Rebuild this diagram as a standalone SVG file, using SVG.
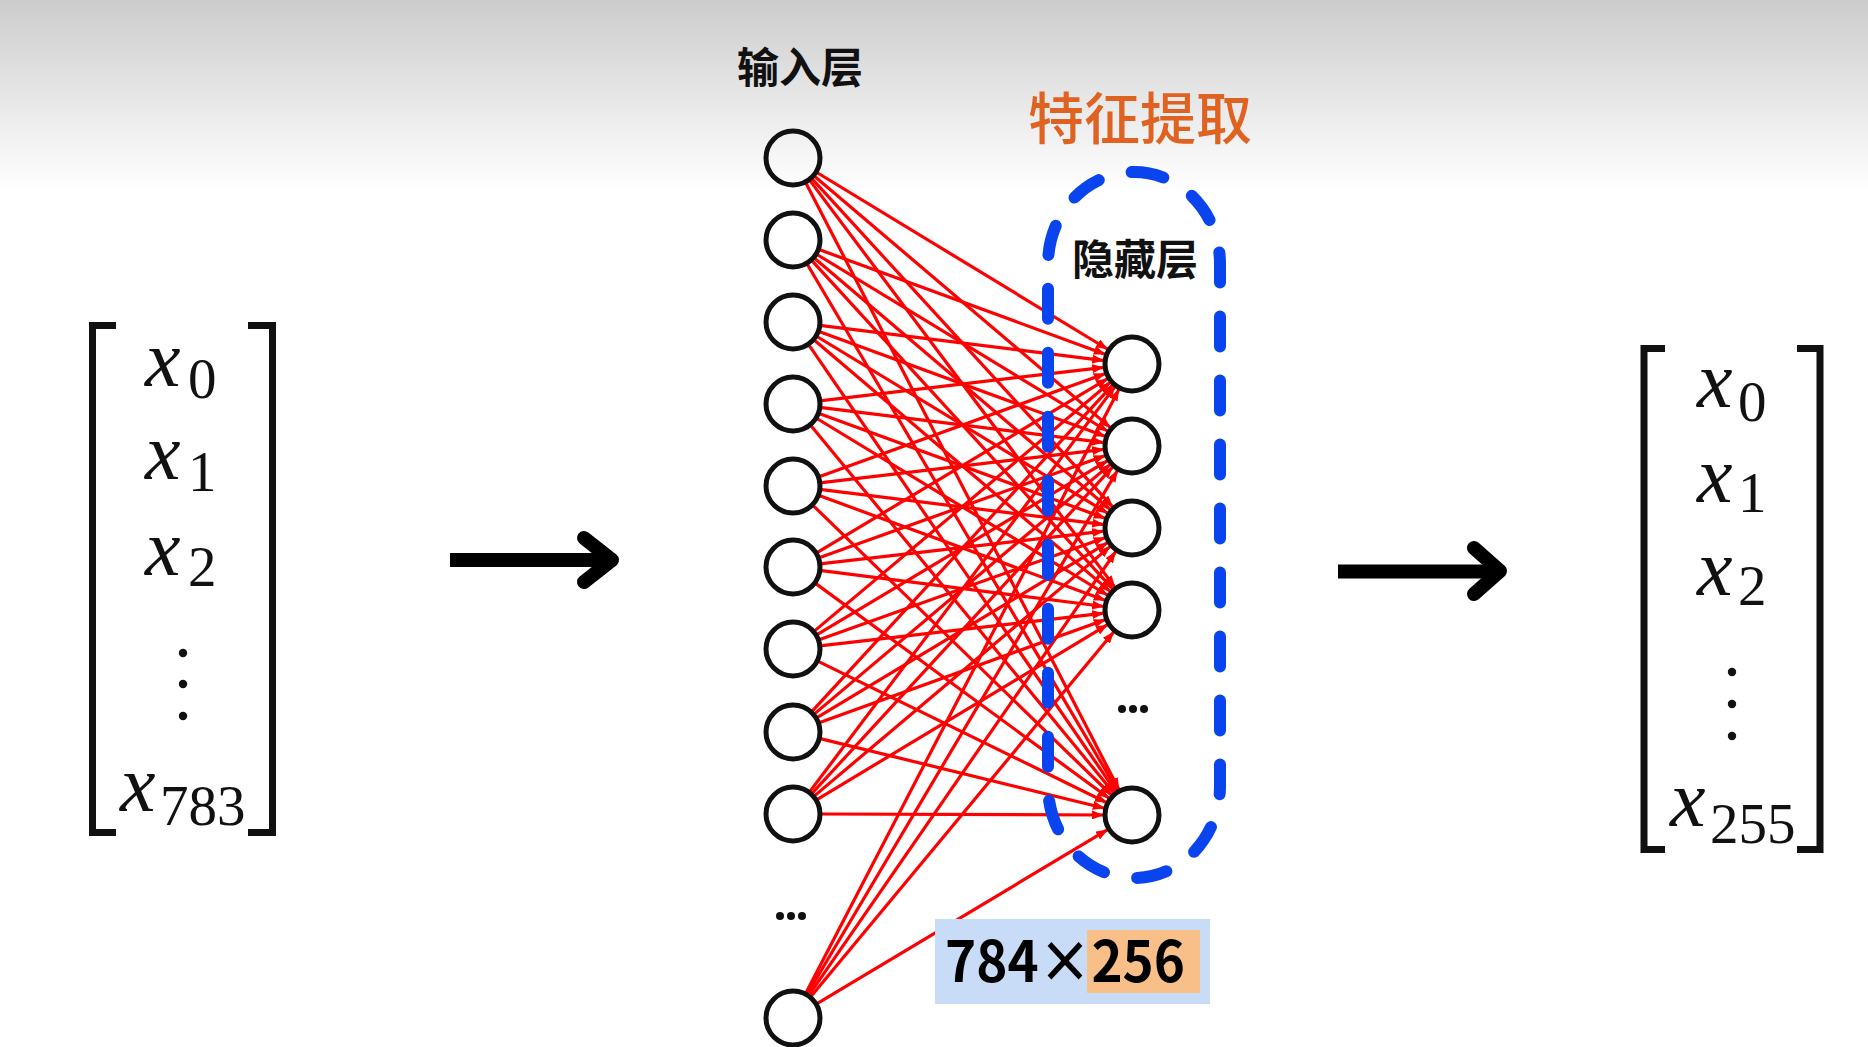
<svg xmlns="http://www.w3.org/2000/svg" width="1868" height="1047" viewBox="0 0 1868 1047">
<defs>
<linearGradient id="bg" x1="0" y1="0" x2="0" y2="190" gradientUnits="userSpaceOnUse">
<stop offset="0" stop-color="#cccccc"/>
<stop offset="0.5" stop-color="#e6e6e6"/>
<stop offset="1" stop-color="#ffffff"/>
</linearGradient>
<marker id="ah" markerUnits="userSpaceOnUse" markerWidth="12" markerHeight="9" refX="12" refY="4.5" orient="auto">
<path d="M0,0 L12,4.5 L0,9 z" fill="#ff0000"/>
</marker>
</defs>
<style>
.node{fill:none;stroke:#111;stroke-width:5}
.cn line{stroke:#ff0000;stroke-width:3.2;marker-end:url(#ah)}
.cjk{font-family:"Noto Sans CJK SC","Noto Sans",sans-serif;font-weight:bold;fill:#111;text-anchor:middle}
.mx{font-family:"Liberation Serif",serif;font-style:italic;font-size:80px;fill:#111}
.sb{font-family:"Liberation Serif",serif;font-size:57px;fill:#111}
.br{fill:none;stroke:#111;stroke-width:7}
.big{fill:none;stroke:#000;stroke-width:14}
</style>
<rect x="0" y="0" width="1868" height="1047" fill="#ffffff"/>
<rect x="0" y="0" width="1868" height="190" fill="url(#bg)"/>

<g id="input-matrix">
<path class="br" d="M116,325.5 H92.5 V832.5 H116"/>
<path class="br" d="M248,325.5 H272.5 V832.5 H248"/>
<text class="mx" x="145" y="386">x</text><text class="sb" x="188" y="398">0</text>
<text class="mx" x="145" y="479">x</text><text class="sb" x="188" y="491">1</text>
<text class="mx" x="145" y="575">x</text><text class="sb" x="188" y="586">2</text>
<circle cx="183" cy="653" r="4.2" fill="#111"/>
<circle cx="183" cy="684" r="4.2" fill="#111"/>
<circle cx="183" cy="716" r="4.2" fill="#111"/>
<text class="mx" x="120" y="811">x</text><text class="sb" x="160" y="825">783</text>
</g>

<g id="arrow-left">
<path class="big" d="M450,560 H606"/>
<path class="big" d="M584,538 L612,560 L584,582" stroke-linecap="round" stroke-linejoin="round" stroke-width="15"/>
</g>

<g id="connectors" class="cn">
<line x1="816.1" y1="172.0" x2="1108.1" y2="349.5"/>
<line x1="813.6" y1="175.5" x2="1110.7" y2="427.9"/>
<line x1="811.2" y1="177.9" x2="1113.1" y2="507.4"/>
<line x1="809.2" y1="179.6" x2="1115.2" y2="587.6"/>
<line x1="805.4" y1="182.0" x2="1119.2" y2="790.1"/>
<line x1="818.4" y1="249.3" x2="1105.7" y2="354.4"/>
<line x1="816.1" y1="254.0" x2="1108.1" y2="431.5"/>
<line x1="813.6" y1="257.5" x2="1110.7" y2="509.9"/>
<line x1="811.2" y1="259.9" x2="1113.1" y2="589.4"/>
<line x1="806.7" y1="263.3" x2="1117.8" y2="790.9"/>
<line x1="819.8" y1="325.3" x2="1104.2" y2="360.6"/>
<line x1="818.4" y1="331.3" x2="1105.7" y2="436.4"/>
<line x1="816.1" y1="336.0" x2="1108.1" y2="513.5"/>
<line x1="813.6" y1="339.5" x2="1110.7" y2="591.9"/>
<line x1="808.3" y1="344.2" x2="1116.1" y2="791.9"/>
<line x1="819.8" y1="400.8" x2="1104.2" y2="367.3"/>
<line x1="819.8" y1="407.3" x2="1104.2" y2="442.6"/>
<line x1="818.4" y1="413.3" x2="1105.7" y2="518.4"/>
<line x1="816.1" y1="418.0" x2="1108.1" y2="595.5"/>
<line x1="810.2" y1="424.8" x2="1114.2" y2="793.4"/>
<line x1="818.4" y1="476.9" x2="1105.7" y2="373.5"/>
<line x1="819.8" y1="482.8" x2="1104.2" y2="449.3"/>
<line x1="819.8" y1="489.3" x2="1104.2" y2="524.6"/>
<line x1="818.4" y1="495.3" x2="1105.7" y2="600.4"/>
<line x1="812.4" y1="504.8" x2="1111.9" y2="795.5"/>
<line x1="816.2" y1="553.1" x2="1108.0" y2="378.4"/>
<line x1="818.4" y1="557.9" x2="1105.6" y2="455.4"/>
<line x1="819.8" y1="563.9" x2="1104.2" y2="531.2"/>
<line x1="819.8" y1="570.4" x2="1104.2" y2="606.5"/>
<line x1="814.8" y1="582.9" x2="1109.4" y2="798.5"/>
<line x1="813.7" y1="631.6" x2="1110.6" y2="382.0"/>
<line x1="816.2" y1="635.1" x2="1108.0" y2="460.4"/>
<line x1="818.4" y1="639.9" x2="1105.6" y2="537.4"/>
<line x1="819.8" y1="645.9" x2="1104.2" y2="613.2"/>
<line x1="817.2" y1="660.9" x2="1106.9" y2="802.7"/>
<line x1="811.3" y1="712.1" x2="1113.0" y2="384.6"/>
<line x1="813.6" y1="714.6" x2="1110.6" y2="464.1"/>
<line x1="816.1" y1="718.1" x2="1108.0" y2="542.4"/>
<line x1="818.4" y1="722.9" x2="1105.7" y2="619.5"/>
<line x1="819.2" y1="738.4" x2="1104.8" y2="808.3"/>
<line x1="809.2" y1="792.4" x2="1115.2" y2="386.4"/>
<line x1="811.3" y1="794.1" x2="1113.0" y2="466.6"/>
<line x1="813.6" y1="796.6" x2="1110.6" y2="546.1"/>
<line x1="816.1" y1="800.1" x2="1108.0" y2="624.4"/>
<line x1="820" y1="814" x2="1104" y2="815"/>
<line x1="805.4" y1="994.0" x2="1119.1" y2="388.9"/>
<line x1="806.8" y1="994.8" x2="1117.7" y2="470.1"/>
<line x1="808.4" y1="995.8" x2="1116.1" y2="551.0"/>
<line x1="810.3" y1="997.2" x2="1114.1" y2="631.5"/>
<line x1="816.2" y1="1004.1" x2="1108.0" y2="829.4"/>
</g>

<g id="hidden-group">
<rect x="1048" y="172" width="172" height="706" rx="86" ry="92" fill="none" stroke="#0a44ee" stroke-width="12" stroke-dasharray="30 34" stroke-linecap="round"/>
</g>

<g id="input-layer">
<text class="cjk" x="800" y="83" font-size="42">输入层</text>
<circle class="node" cx="793" cy="158" r="27"/>
<circle class="node" cx="793" cy="240" r="27"/>
<circle class="node" cx="793" cy="322" r="27"/>
<circle class="node" cx="793" cy="404" r="27"/>
<circle class="node" cx="793" cy="486" r="27"/>
<circle class="node" cx="793" cy="567" r="27"/>
<circle class="node" cx="793" cy="649" r="27"/>
<circle class="node" cx="793" cy="732" r="27"/>
<circle class="node" cx="793" cy="814" r="27"/>
<circle cx="780" cy="916" r="4" fill="#111"/>
<circle cx="791" cy="916" r="4" fill="#111"/>
<circle cx="802" cy="916" r="4" fill="#111"/>
<circle class="node" cx="793" cy="1018" r="27"/>
</g>

<g id="hidden-layer">
<text class="cjk" x="1135" y="275" font-size="42">隐藏层</text>
<circle class="node" cx="1132" cy="364" r="27"/>
<circle class="node" cx="1132" cy="446" r="27"/>
<circle class="node" cx="1132" cy="528" r="27"/>
<circle class="node" cx="1132" cy="610" r="27"/>
<circle cx="1122" cy="709" r="4" fill="#111"/>
<circle cx="1133" cy="709" r="4" fill="#111"/>
<circle cx="1144" cy="709" r="4" fill="#111"/>
<circle class="node" cx="1132" cy="815" r="27"/>
</g>

<g id="title">
<text x="1140" y="139" font-family="'Noto Sans CJK SC','Noto Sans',sans-serif" font-size="56" font-weight="500" fill="#df6220" text-anchor="middle">特征提取</text>
</g>

<g id="size-label">
<rect x="935" y="919" width="275" height="85" fill="#c8dbf7"/>
<rect x="1087" y="930" width="113" height="63" fill="#f8c088"/>
<text x="945" y="982" font-family="'Noto Sans CJK SC','Noto Sans',sans-serif" font-size="57" font-weight="bold" fill="#000" textLength="240" lengthAdjust="spacingAndGlyphs">784×256</text>
</g>

<g id="arrow-right">
<path class="big" d="M1338,571.5 H1494"/>
<path class="big" d="M1474,548 L1500,571 L1474,594" stroke-linecap="round" stroke-linejoin="round" stroke-width="15"/>
</g>

<g id="output-matrix">
<path class="br" d="M1665,348.5 H1644 V849.5 H1665"/>
<path class="br" d="M1797,348.5 H1820 V849.5 H1797"/>
<text class="mx" x="1697" y="407">x</text><text class="sb" x="1738" y="421">0</text>
<text class="mx" x="1697" y="502">x</text><text class="sb" x="1738" y="512">1</text>
<text class="mx" x="1697" y="595">x</text><text class="sb" x="1738" y="605">2</text>
<circle cx="1732" cy="672" r="4.2" fill="#111"/>
<circle cx="1732" cy="704" r="4.2" fill="#111"/>
<circle cx="1732" cy="736" r="4.2" fill="#111"/>
<text class="mx" x="1670" y="826">x</text><text class="sb" x="1710" y="843">255</text>
</g>
</svg>
